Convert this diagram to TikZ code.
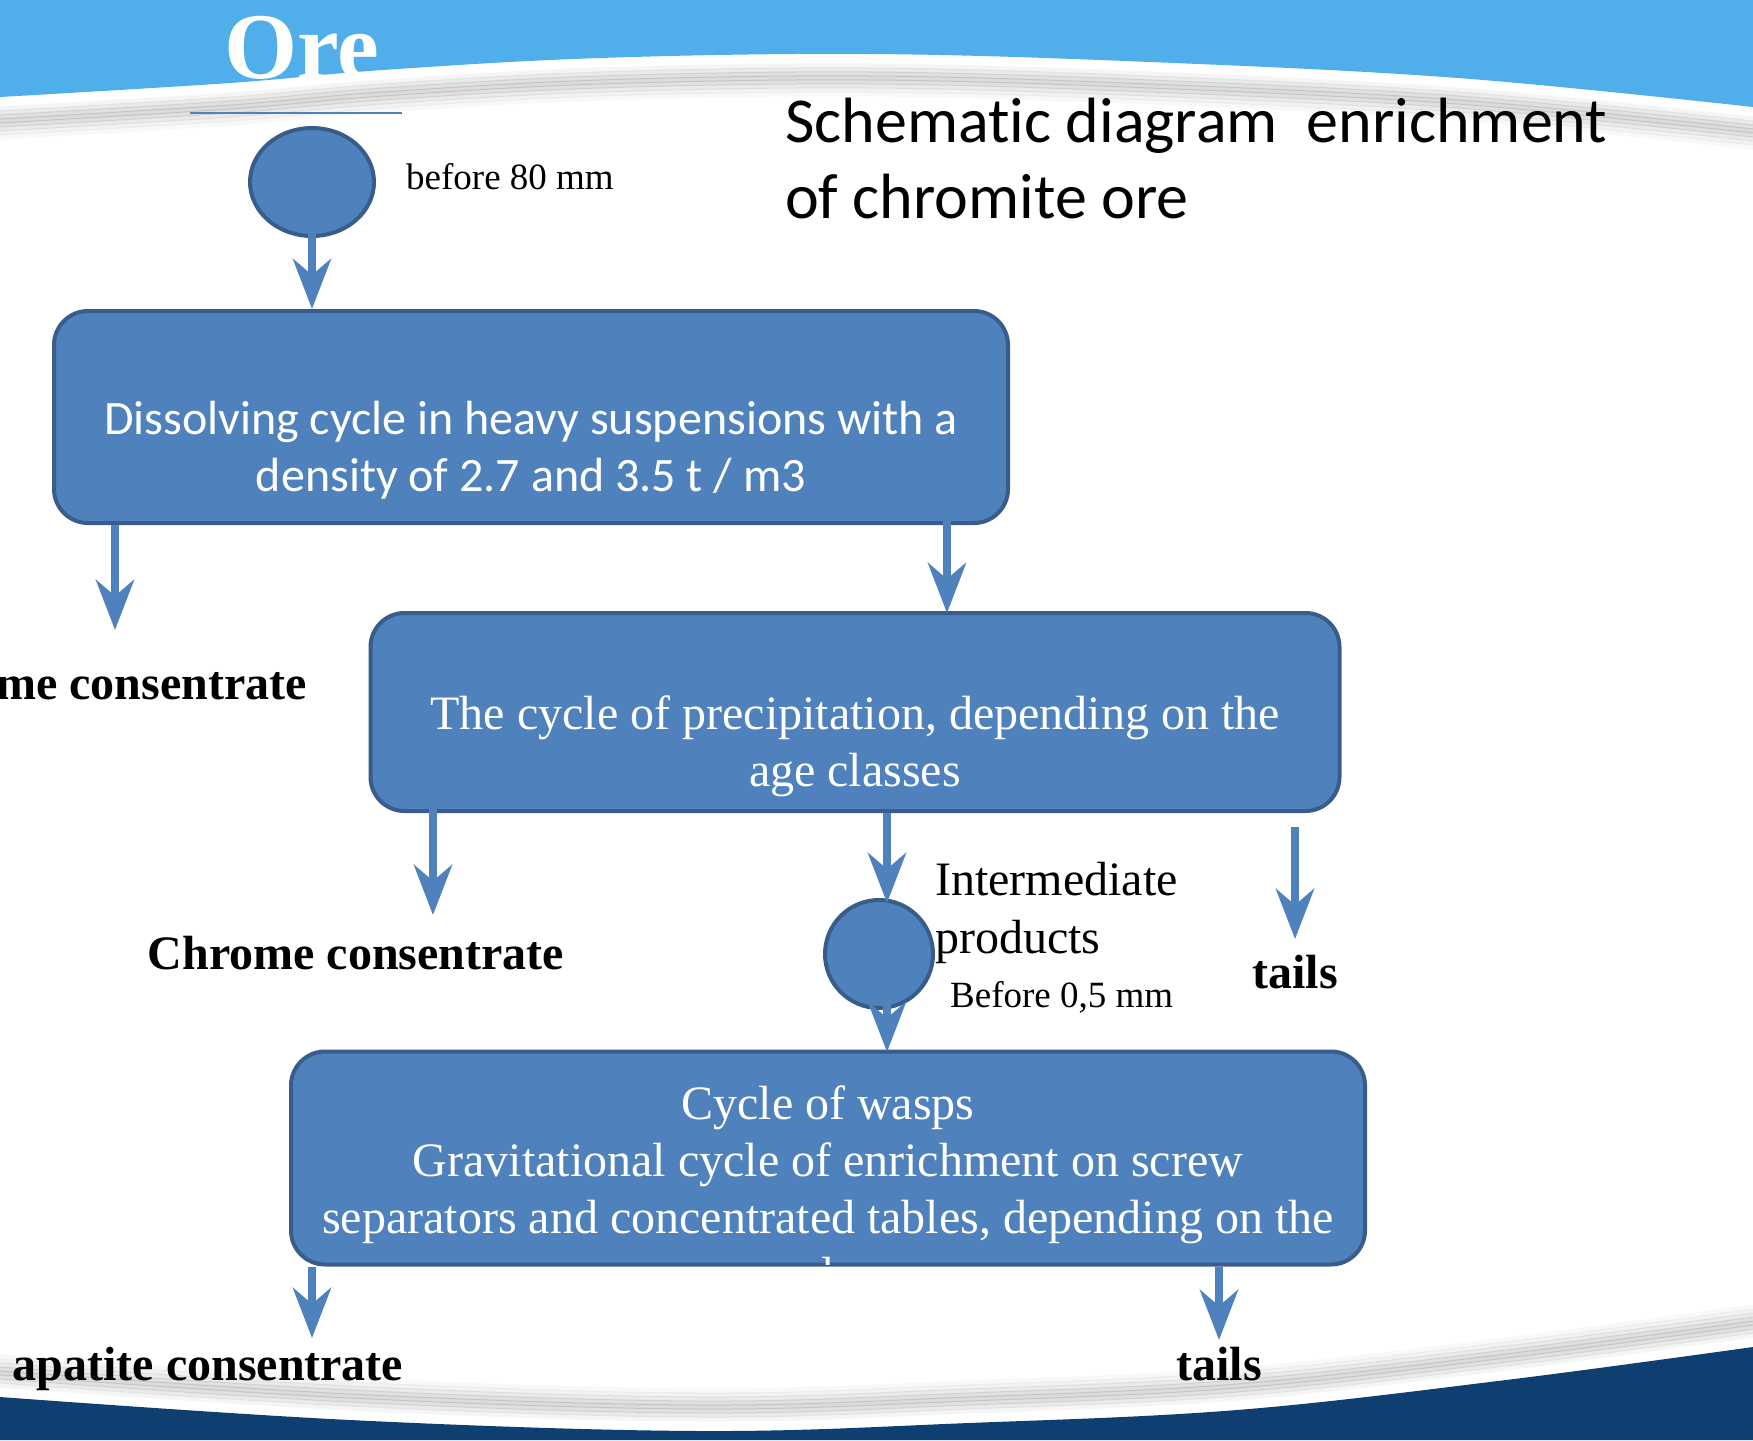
\documentclass[tikz,border=0pt]{standalone}
\usepackage{fontspec}
\setmainfont{Liberation Serif}
\newfontfamily\carlito[Ligatures=NoCommon]{Carlito}
\usetikzlibrary{arrows.meta,shapes.geometric}

\definecolor{boxblue}{RGB}{79,129,189}
\definecolor{boxedge}{RGB}{56,93,138}
\definecolor{skyblue}{RGB}{80,175,234}
\definecolor{navyband}{RGB}{15,62,112}

\begin{document}
\begin{tikzpicture}[x=1pt,y=-1pt,
  stage/.style={draw=boxedge, fill=boxblue, line width=4pt, rounded corners=34pt, inner sep=0pt},
  stagetext/.style={text=white, align=center, font=\fontsize{48}{57}\selectfont, inner sep=0pt},
  grain/.style={ellipse, draw=boxedge, fill=boxblue, line width=4pt, inner sep=0pt},
  flow/.style={draw=boxblue, line width=8pt, -{Stealth[length=50pt,width=38pt,inset=16pt]}},
  product/.style={font=\fontsize{48}{57}\selectfont\bfseries, inner sep=0pt},
  note/.style={font=\fontsize{37}{44}\selectfont, inner sep=0pt, anchor=west, align=left},
  topwave/.style={insert path={plot[smooth, tension=0.6] coordinates
    {(0,97) (230,83) (383,70) (600,58) (870,54) (1150,62) (1458,78) (1753,107)}}},
  lowwave/.style={insert path={plot[smooth, tension=0.6] coordinates
    {(0,1397) (350,1420) (700,1431) (969,1423) (1237,1410) (1506,1380) (1753,1347)}}}
]
\useasboundingbox (0,0) rectangle (1753,1440);

% background swooshes
\fill[white] (0,0) rectangle (1753,1440);
\foreach \d/\o in {12/0.08,16/0.16,20/0.24,24/0.28,28/0.24,32/0.16,36/0.10,40/0.05}
  \draw[gray, line width=5pt, opacity=\o, yshift=-\d pt, topwave];
\fill[skyblue, topwave] -- (1753,0) -- (0,0) -- cycle;
\foreach \d/\o in {12/0.08,16/0.16,20/0.24,24/0.28,28/0.24,32/0.16,36/0.10,40/0.05}
  \draw[gray, line width=5pt, opacity=\o, yshift=\d pt, lowwave];
\fill[navyband, lowwave] -- (1753,1440) -- (0,1440) -- cycle;

% titles
\node[font=\fontsize{94}{100}\selectfont\bfseries, text=white, inner sep=0pt] (ore) at (302,48) {Ore};
\draw[boxblue, line width=2.5pt] (190,113) -- (402,113);
\node[font=\carlito\fontsize{64}{76}\selectfont, anchor=west, align=left, inner sep=0pt]
  (heading) at (785,159) {Schematic diagram\ \ enrichment\\of chromite ore};

% ore feed
\node[grain, minimum width=124pt, minimum height=108pt] (orefeed) at (312,182) {};
\node[note] (orelabel) at (406,177) {before 80 mm};

% heavy suspensions
\node[stage, minimum width=954pt, minimum height=212pt] (dissolve) at (531,417) {};
\node[stagetext, font=\carlito\fontsize{48}{57}\selectfont] (dissolvetext) at (531,450)
  {Dissolving cycle in heavy suspensions with a\\density of 2.7 and 3.5 t / m3};

% precipitation
\node[stage, minimum width=969pt, minimum height=198pt] (precip) at (855,712) {};
\node[stagetext] (preciptext) at (855,746)
  {The cycle of precipitation, depending on the\\age classes};

% intermediate products
\node[grain, minimum size=108pt] (middlings) at (879,954) {};
\node[note, font=\fontsize{48}{58}\selectfont] (midlabel) at (935,913) {Intermediate\\products};
\node[note] (midsize) at (950,997) {Before 0,5 mm};

% gravitational cycle (last line runs out of the box)
\node[stage, minimum width=1074pt, minimum height=213pt] (gravity) at (828,1158) {};
\begin{scope}
  \clip ([shift={(2pt,2pt)}]gravity.south west) rectangle ([shift={(-2pt,-2pt)}]gravity.north east);
  \node[stagetext] (gravitytext) at (828,1193)
    {Cycle of wasps\\Gravitational cycle of enrichment on screw\\separators and concentrated tables, depending on the\\age classes};
\end{scope}

% products
\node[product, anchor=east] (chromeA) at (307,683) {Chrome consentrate};
\node[product] (chromeB) at (356,953) {Chrome consentrate};
\node[product] (tailsA) at (1295,972) {tails};
\node[product] (apatite) at (208,1369) {apatite consentrate};
\node[product] (tailsB) at (1219,1364) {tails};

% flows
\coordinate (toChromeA) at (115,630);
\coordinate (toPrecip) at (947,613);
\coordinate (toChromeB) at (433,915);
\coordinate (toMiddlings) at (887,903);
\coordinate (fromTailsA) at (1295,827);
\coordinate (toTailsA) at (1295,939);
\coordinate (toGravity) at (887,1052);
\coordinate (toApatite) at (312,1338);
\coordinate (toTailsB) at (1219,1340);

\draw[flow] ([yshift=12pt]orefeed.south) -- (dissolve.north -| orefeed.south);
\draw[flow] (dissolve.south -| toChromeA) -- (toChromeA);
\draw[flow] ([yshift=7pt]dissolve.south -| toPrecip) -- (toPrecip);
\draw[flow] ([yshift=8pt]precip.south -| toChromeB) -- (toChromeB);
\draw[flow] (precip.south -| toMiddlings) -- (toMiddlings);
\draw[flow] (fromTailsA) -- (toTailsA);
\draw[flow] ([yshift=8pt]middlings.south -| toGravity) -- (toGravity);
\draw[flow] (gravity.south -| toApatite) -- (toApatite);
\draw[flow] (gravity.south -| toTailsB) -- (toTailsB);

\end{tikzpicture}
\end{document}
